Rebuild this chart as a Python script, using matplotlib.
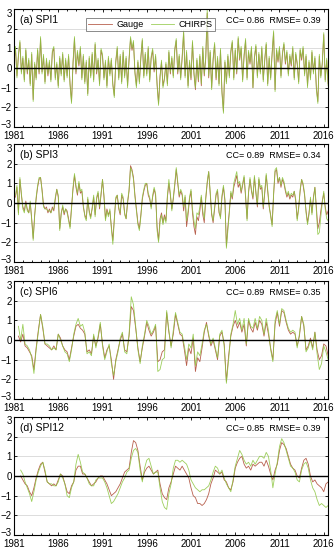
import numpy as np
import matplotlib.pyplot as plt
import matplotlib.transforms as mtransforms
from matplotlib.ticker import MultipleLocator

plt.rcParams['font.family'] = ['Liberation Sans', 'DejaVu Sans']

# SPI-1, every two months from 1981.0
g1 = [0.3, 1.0, -0.4, 0.6, 1.3, -0.2, 0.5, -0.6, 0.9, -0.3, 0.4, -0.8,
      0.7, -1.6, 0.2, -0.5, 0.9, -0.3, 1.5, -0.2, 0.6, -0.7, 0.4, -0.4,
      0.3, -0.6, 0.8, 1.0, -0.5, 0.2, -0.9, 0.5, -0.3, 0.7, -0.6, 0.4,
      -0.4, 0.6, -0.8, -1.7, 0.2, 1.5, -0.3, 0.8, 0.1, 1.0, -0.5, 0.6,
      -0.7, 0.3, -1.3, 0.5, -0.4, 0.7, -0.6, 1.2, -0.3, 0.4, -0.8, 0.9,
      0.6, -0.5, 0.3, -0.9, 0.5, -0.3, 0.4, -0.8, -1.4, 0.3, 1.0, -0.5,
      0.6, -0.7, 0.8, -0.4, 0.5, -0.9, 0.4, 1.5, 0.9, 1.3, -0.2, -0.9,
      0.3, -0.7, 0.5, 1.4, -0.4, 0.7, -0.3, 1.0, -0.6, 0.5, 0.9, -0.2,
      0.6, -0.8, -1.8, -0.4, 0.3, -0.9, -0.5, 0.2, -0.8, 0.8, -0.3, 0.5,
      -0.4, 0.9, 1.4, -0.3, 0.6, -0.5, 0.5, 1.8, -0.4, 0.8, -0.9, 0.3,
      -0.6, 1.3, -0.3, -1.1, 0.4, -0.7, 0.6, -0.9, 1.0, -0.4, 0.5, 2.8,
      -0.5, 0.8, -1.0, 0.4, 1.2, -0.6, 0.5, -0.8, 0.9, -1.2, -2.2, 0.3,
      -0.7, 0.6, -0.4, 0.8, 1.3, -0.5, 0.9, -0.3, 1.5, 0.4, 1.0, -0.6,
      0.6, 1.4, -0.5, 0.8, 0.2, 1.0, -1.0, 0.5, 1.1, -0.4, 0.7, -0.2,
      1.0, -0.6, 0.4, 1.2, -0.8, 0.5, -0.5, 0.7, 1.8, -1.1, 0.9, 0.3,
      1.0, -0.4, 0.7, 1.2, 0.2, 0.8, -0.3, 0.6, 0.1, 1.0, -0.5, 0.7,
      0.2, -0.7, 0.9, 0.4, 1.0, -0.3, 0.6, -0.9, 0.3, -0.5, 0.8, -0.2,
      0.5, -1.0, -1.7, 0.6, -0.4, 0.2, 1.7, -0.6, 0.4, -0.8]
c1 = [0.4, 1.1, -0.5, 0.7, 1.4, -0.3, 0.6, -0.7, 1.0, -0.2, 0.5, -0.9,
      0.8, -1.7, 0.3, -0.6, 1.0, -0.2, 1.6, -0.3, 0.7, -0.8, 0.5, -0.3,
      0.4, -0.7, 0.9, 1.1, -0.6, 0.3, -1.0, 0.6, -0.4, 0.8, -0.7, 0.5,
      -0.5, 0.7, -0.9, -1.8, 0.3, 1.6, -0.2, 0.9, 0.2, 1.1, -0.6, 0.7,
      -0.8, 0.4, -1.4, 0.6, -0.5, 0.8, -0.7, 1.3, -0.2, 0.5, -0.9, 1.0,
      0.7, -0.6, 0.4, -1.0, 0.6, -0.4, 0.5, -0.9, -1.5, 0.4, 1.1, -0.6,
      0.7, -0.8, 0.9, -0.5, 0.6, -1.0, 0.5, 1.6, 1.0, 1.4, -0.3, -1.0,
      0.4, -0.8, 0.6, 1.5, -0.5, 0.8, -0.4, 1.1, -0.7, 0.6, 1.0, -0.1,
      0.7, -0.9, -1.9, -0.5, 0.4, -1.0, -0.6, 0.3, -0.9, 0.9, -0.2, 0.6,
      -0.5, 1.0, 1.5, -0.2, 0.7, -0.6, 0.6, 1.9, -0.5, 0.9, -1.0, 0.4,
      -0.5, 1.4, -0.2, -1.0, 0.5, -0.6, 0.7, -0.8, 1.1, -0.3, 0.6, 3.0,
      -0.4, 0.9, -1.1, 0.5, 1.3, -0.5, 0.6, -0.9, 1.0, -1.3, -2.3, 0.4,
      -0.8, 0.7, -0.5, 0.9, 1.4, -0.6, 1.0, -0.2, 1.6, 0.5, 1.1, -0.7,
      0.7, 1.5, -0.6, 0.9, 0.3, 1.1, -1.0, 0.6, 1.2, -0.5, 0.8, -0.3,
      1.1, -0.7, 0.5, 1.3, -0.9, 0.6, -0.6, 0.8, 1.9, -1.2, 1.0, 0.4,
      1.1, -0.5, 0.8, 1.3, 0.3, 0.9, -0.4, 0.7, 0.2, 1.1, -0.6, 0.8,
      0.3, -0.8, 1.0, 0.5, 1.1, -0.4, 0.7, -1.0, 0.4, -0.6, 0.9, -0.3,
      0.6, -1.1, -1.8, 0.7, -0.5, 0.3, 1.8, -0.7, 0.5, -0.9]

# SPI-3, every two months from 1981 + 1/6
g3 = [0.3, 0.8, -0.5, 1.2, 0.4,
      -0.2, -0.4, 0.1, -0.3, -0.5, 0.0, -0.8, -1.8, -0.6, 0.2, 0.8, 1.2,
      1.3, 0.7, -0.1, -0.3, -0.2, -0.5, -0.3, -0.5, -0.2, -0.4, 0.2, 0.7,
      0.3, -1.3, -0.5, -0.2, -0.6, -0.3, -0.4, -0.8, -1.2, -0.2, 0.7, 1.4,
      0.8, 0.4, 1.0, 0.5, 0.6, -0.2, -0.6, -0.8, 0.2, -0.4, -0.7, -0.3,
      0.3, -0.6, 0.2, 0.5, -0.3, 0.4, 1.2, 0.3, -0.8, -0.3, -0.6, -0.4,
      -1.2, -1.9, -0.8, 0.2, 0.4, -0.3, -0.6, 0.4, 0.2, -0.5, -0.8, 0.0,
      0.6, 1.9, 1.7, 1.3, 0.4, -0.3, -1.0, -1.3, -0.6, 0.2, 0.6, 0.9,
      1.0, 0.4, 0.2, -0.2, 0.3, 0.7, 0.4, -1.2, -1.9, -0.8, -0.5, -1.0,
      -0.6, -0.9, 0.3, 1.0, 0.4, -0.3, 0.2, 0.9, 1.7, 1.0, 0.3, 0.6,
      0.4, -0.4, 0.3, -1.2, -0.6, 0.2, 0.6, -0.5, -1.2, -1.6, -0.7, -0.9,
      -0.4, 0.3, -0.6, -1.0, 0.2, 1.0, 1.6, 0.5, -0.6, -1.0, -0.3, 0.4,
      0.6, -0.5, -0.7, 0.3, 0.8, 0.1, -2.2, -1.2, -0.4, 0.5, 0.2, 0.8,
      1.1, 1.4, 0.8, 1.0, 0.5, 0.9, 1.3, 0.3, -0.8, 0.5, 1.2, 0.6,
      0.2, 1.3, 0.5, -0.2, 1.2, 0.7, 0.8, -0.3, 0.5, 1.4, 0.6, -0.2,
      -0.6, -1.1, 0.4, 1.6, 1.7, 1.0, 1.3, 0.8, 1.2, 1.0, 0.6, 0.3,
      0.5, 0.2, 0.4, 0.3, 0.6, 0.1, -0.8, -0.2, 0.6, 1.2, 0.9, 0.4,
      -0.4, -1.0, -0.5, 0.2, -0.5, 0.3, 0.8, -0.2, -1.3, -1.0, -0.4, 0.1,
      0.5, -0.2, -0.6, -0.4]
c3 = [0.4, 0.9, -0.6, 1.3, 0.5,
      -0.3, -0.5, 0.0, -0.4, -0.5, 0.1, -0.9, -1.9, -0.7, 0.3, 0.9, 1.3,
      1.3, 0.6, -0.2, -0.3, -0.3, -0.4, -0.4, -0.5, -0.3, -0.3, 0.3, 0.7,
      0.4, -1.4, -0.6, -0.1, -0.5, -0.3, -0.5, -0.9, -1.3, -0.3, 0.8, 1.5,
      0.9, 0.5, 1.1, 0.6, 0.7, -0.1, -0.7, -0.9, 0.3, -0.5, -0.8, -0.2,
      0.4, -0.7, 0.3, 0.6, -0.2, 0.5, 1.2, 0.4, -0.9, -0.4, -0.7, -0.3,
      -1.3, -2.1, -0.9, 0.3, 0.4, -0.2, -0.5, 0.5, 0.3, -0.6, -0.8, 0.1,
      0.7, 1.8, 1.6, 1.2, 0.3, -0.4, -1.1, -1.4, -0.7, 0.3, 0.7, 1.0,
      1.0, 0.5, 0.3, -0.3, 0.4, 0.8, 0.5, -1.4, -2.0, -1.0, -0.6, -1.1,
      -0.7, -1.0, 0.4, 1.2, 0.5, -0.4, 0.3, 1.0, 1.8, 1.1, 0.4, 0.7,
      0.5, -0.2, 0.4, -0.9, -0.4, 0.3, 0.7, -0.3, -0.9, -1.3, -0.5, -0.6,
      -0.2, 0.4, -0.4, -0.8, 0.3, 1.1, 1.6, 0.6, -0.5, -0.9, -0.2, 0.5,
      0.7, -0.4, -0.8, 0.4, 0.9, 0.2, -2.3, -1.4, -0.5, 0.6, 0.3, 1.0,
      1.3, 1.6, 1.0, 1.1, 0.6, 1.0, 1.4, 0.4, -0.9, 0.6, 1.3, 0.7,
      0.3, 1.4, 0.6, -0.1, 1.3, 0.8, 0.9, -0.2, 0.6, 1.5, 0.7, -0.1,
      -0.7, -1.2, 0.5, 1.7, 1.8, 1.1, 1.3, 0.9, 1.3, 1.1, 0.7, 0.4,
      0.6, 0.3, 0.5, 0.4, 0.6, 0.2, -0.9, -0.3, 0.7, 1.2, 1.0, 0.5,
      -0.5, -1.1, -0.6, 0.3, -0.6, 0.2, 0.8, -0.4, -1.6, -1.5, -0.7, 0.0,
      0.6, -0.3, -0.8, -0.9]

# SPI-6, quarterly from 1981.5
g6 = [0.2, -0.1,
      0.3, -0.3, -0.4, -0.6, -0.8, -1.5, -0.4, 0.5, 1.3, 0.6, -0.2, -0.3,
      -0.4, -0.5, -0.3, -0.5, 0.3, 0.1, -0.3, -0.5, -0.6, -1.0, -0.4, 0.2,
      0.7, 0.8, 0.6, 0.5, 0.3, -0.6, -0.5, -0.7, 0.2, -0.3, 0.1, 0.8,
      -0.2, -0.9, -0.5, -0.3, -1.0, -2.0, -1.0, -0.5, 0.0, 0.3, -0.5, -0.6,
      0.2, 1.7, 1.5, 0.6, -0.4, -1.1, -0.4, 0.2, 0.9, 0.5, 0.2, 0.4,
      0.7, -1.1, -1.0, -0.6, -0.5, 1.4, 0.4, -0.3, 0.3, 1.3, 0.8, 0.3,
      0.2, -0.5, -1.3, -0.4, -0.7, 0.1, -1.6, -0.9, -1.1, -0.4, 0.4, 0.9,
      0.2, -0.3, 0.0, -0.5, -1.0, 0.2, 0.4, -0.2, -2.1, -0.8, 0.2, 0.7,
      1.0, 0.6, 0.9, 0.4, 0.8, -0.3, 1.0, 0.6, 0.4, 0.9, 0.5, 1.0,
      0.8, 0.2, 0.9, 0.3, -0.4, -1.0, 0.8, 1.4, 0.7, 1.5, 1.4, 0.9,
      0.5, 0.3, 0.4, 0.3, -0.3, 0.2, 1.2, 0.7, -0.5, -0.3, 0.1, -0.4,
      0.4, -0.5, -1.0, -0.8, -0.2, -0.3, -0.8]
c6 = [0.7, 0.0,
      0.8, -0.2, -0.3, -0.5, -0.9, -1.7, -0.5, 0.4, 1.3, 0.7, -0.2, -0.2,
      -0.3, -0.5, -0.4, -0.5, 0.3, 0.0, -0.3, -0.6, -0.7, -1.1, -0.5, 0.3,
      0.8, 1.1, 0.7, 0.8, 0.4, -0.7, -0.6, -0.8, 0.3, -0.4, 0.2, 0.9,
      -0.3, -1.0, -0.6, -0.2, -1.2, -1.8, -1.1, -0.6, 0.1, 0.4, -0.6, -0.7,
      0.3, 2.2, 1.8, 0.7, -0.5, -1.2, -0.3, 0.3, 1.0, 0.7, 0.3, 0.5,
      0.8, -1.6, -1.5, -1.0, -0.9, 1.5, 0.5, -0.4, 0.5, 1.4, 0.9, 0.4,
      0.3, -0.3, -1.0, -0.2, -0.4, 0.3, -1.3, -0.6, -0.8, -0.2, 0.5, 0.8,
      0.3, -0.2, 0.1, -0.4, -0.9, 0.3, 0.5, -0.3, -2.2, -1.0, 0.3, 0.8,
      1.5, 0.8, 1.1, 0.5, 1.1, -0.2, 1.1, 0.7, 0.6, 1.1, 0.6, 1.2,
      1.0, 0.3, 1.1, 0.5, -0.5, -1.1, 1.0, 1.5, 0.8, 1.6, 1.5, 1.0,
      0.6, 0.4, 0.5, 0.4, -0.4, 0.3, 1.2, 0.8, -0.6, -0.4, 0.0, -0.5,
      0.4, -0.7, -1.5, -1.2, -0.3, -0.6, -1.0]

# SPI-12, quarterly from 1981.75
g12 = [0.0,
       -0.2, -0.4, -0.5, -0.8, -1.0, -0.6, -0.1, 0.3, 0.6, 0.7, 0.2, -0.3,
       -0.4, -0.5, -0.4, -0.5, -0.2, 0.1, 0.0, -0.4, -0.8, -0.9, -0.5, -0.3,
       0.3, 0.5, 0.5, 0.1, 0.1, -0.1, -0.3, -0.5, -0.4, -0.3, -0.1, 0.0,
       0.0, -0.2, -0.4, -0.7, -1.0, -0.9, -0.8, -0.6, -0.4, -0.1, 0.2, 0.3,
       0.4, 1.2, 1.8, 1.7, 1.3, 0.5, -0.2, 0.2, 0.4, 0.5, 0.3, 0.1,
       0.2, 0.3, -0.4, -0.9, -1.1, -1.2, -0.6, -0.3, 0.1, 0.5, 0.4, 0.3,
       0.5, 0.3, 0.1, -0.1, -0.6, -1.0, -1.1, -1.4, -1.4, -1.5, -1.4, -1.2,
       -0.9, -0.4, -0.1, 0.3, 0.2, 0.1, 0.2, -0.2, -0.3, -0.6, -0.7, -0.3,
       0.4, 0.7, 0.9, 1.0, 0.6, 0.4, 0.5, 0.3, 0.6, 0.5, 0.6, 0.7,
       0.7, 0.5, 0.8, 0.5, 0.1, -0.2, 0.3, 0.6, 1.3, 1.7, 1.6, 1.4,
       1.0, 0.6, 0.4, 0.3, 0.0, -0.1, 0.4, 0.8, 0.9, 0.6, 0.0, -0.3,
       -0.2, -0.4, -0.5, -0.6, -0.8, -0.4, -0.3]
c12 = [0.3,
       0.1, -0.3, -0.6, -0.9, -1.3, -0.8, -0.2, 0.2, 0.5, 0.7, 0.3, -0.3,
       -0.4, -0.4, -0.5, -0.5, -0.3, 0.1, -0.1, -0.4, -1.0, -1.1, -0.6, -0.3,
       0.6, 1.1, 0.7, 0.2, 0.1, -0.1, -0.4, -0.5, -0.5, -0.2, -0.1, -0.1,
       -0.1, -0.3, -0.6, -1.0, -1.4, -1.3, -1.1, -0.9, -0.6, -0.3, -0.1, 0.2,
       0.3, 0.9, 1.3, 1.4, 1.2, 0.3, -0.3, 0.4, 0.8, 0.9, 0.5, 0.1,
       0.2, 0.2, -0.6, -1.3, -1.6, -1.7, -0.9, -0.4, 0.4, 0.8, 0.8, 0.7,
       0.8, 0.7, 0.6, 0.3, -0.2, -0.4, -0.6, -0.7, -0.8, -0.7, -0.7, -0.6,
       -0.5, -0.2, 0.2, 0.5, 0.4, 0.1, 0.3, -0.1, -0.4, -0.6, -0.8, -0.2,
       0.5, 0.9, 1.3, 1.1, 0.8, 0.6, 0.7, 0.5, 0.8, 0.6, 0.8, 1.0,
       1.0, 0.9, 1.2, 1.0, 0.3, -0.6, 0.1, 0.7, 1.5, 1.9, 1.7, 1.3,
       0.9, 0.5, 0.4, 0.2, -0.2, -0.3, 0.3, 0.6, 0.7, 0.4, -0.2, -0.6,
       -0.8, -1.2, -1.5, -1.4, -1.5, -1.6, -1.5]

panels = [('(a) SPI1', 1981.0, 6, g1, c1, 'CC= 0.86  RMSE= 0.39'),
          ('(b) SPI3', 1981.0 + 1 / 6, 6, g3, c3, 'CC= 0.89  RMSE= 0.34'),
          ('(c) SPI6', 1981.5, 4, g6, c6, 'CC= 0.89  RMSE= 0.35'),
          ('(d) SPI12', 1981.75, 4, g12, c12, 'CC= 0.85  RMSE= 0.39')]

gauge_col = '#b8604e'
chirps_col = '#8cc63f'

fig = plt.figure(figsize=(3.36, 5.5), dpi=100)
bottoms = [0.769, 0.5236, 0.2745, 0.0273]
up = mtransforms.ScaledTranslation(0, 2.5 / 72, fig.dpi_scale_trans)
down = mtransforms.ScaledTranslation(0, -2.5 / 72, fig.dpi_scale_trans)

for i, (name, start, per_yr, g, c, stats) in enumerate(panels):
    ax = fig.add_axes([0.0417, bottoms[i], 0.935, 0.2145])
    t = start + np.arange(len(g)) / per_yr
    for yv in [-2, -1, 1, 2]:
        ax.axhline(yv, color='#dcdcdc', lw=0.7, zorder=0)
    ax.axhline(0, color='black', lw=1.0, zorder=3)
    ax.plot(t, g, color=gauge_col, lw=0.6, label='Gauge', zorder=1)
    ax.plot(t, c, color=chirps_col, lw=0.6, alpha=0.85, label='CHIRPS', zorder=2)
    ax.set_xlim(1981, 2016.5)
    ax.set_ylim(-3, 3)
    ax.set_xticks(np.arange(1981, 2017, 5))
    ax.xaxis.set_minor_locator(MultipleLocator(1))
    ax.set_yticks(np.arange(-3, 4, 1))
    ax.tick_params(direction='in', which='both', top=True, right=True,
                   labelsize=7, length=2.5, width=0.6, pad=1.5)
    ax.tick_params(axis='x', which='major', pad=3)
    ax.tick_params(which='minor', length=1.5)
    ylabs = ax.get_yticklabels()
    ylabs[0].set_transform(ylabs[0].get_transform() + up)
    ylabs[-1].set_transform(ylabs[-1].get_transform() + down)
    for s in ax.spines.values():
        s.set_linewidth(0.8)
    ax.text(0.02, 0.905, name, transform=ax.transAxes, fontsize=7.5,
            va='center', ha='left')
    ax.text(0.975, 0.905, stats, transform=ax.transAxes, fontsize=6.5,
            va='center', ha='right')
    if i == 0:
        leg = ax.legend(loc='upper left', bbox_to_anchor=(0.215, 0.965), ncol=2,
                        fontsize=6.5, frameon=True, fancybox=False,
                        edgecolor='#555555', handlelength=2.6,
                        columnspacing=0.8, borderpad=0.25, handletextpad=0.5)
        leg.get_frame().set_linewidth(0.6)

fig.savefig('out.png', dpi=100)
